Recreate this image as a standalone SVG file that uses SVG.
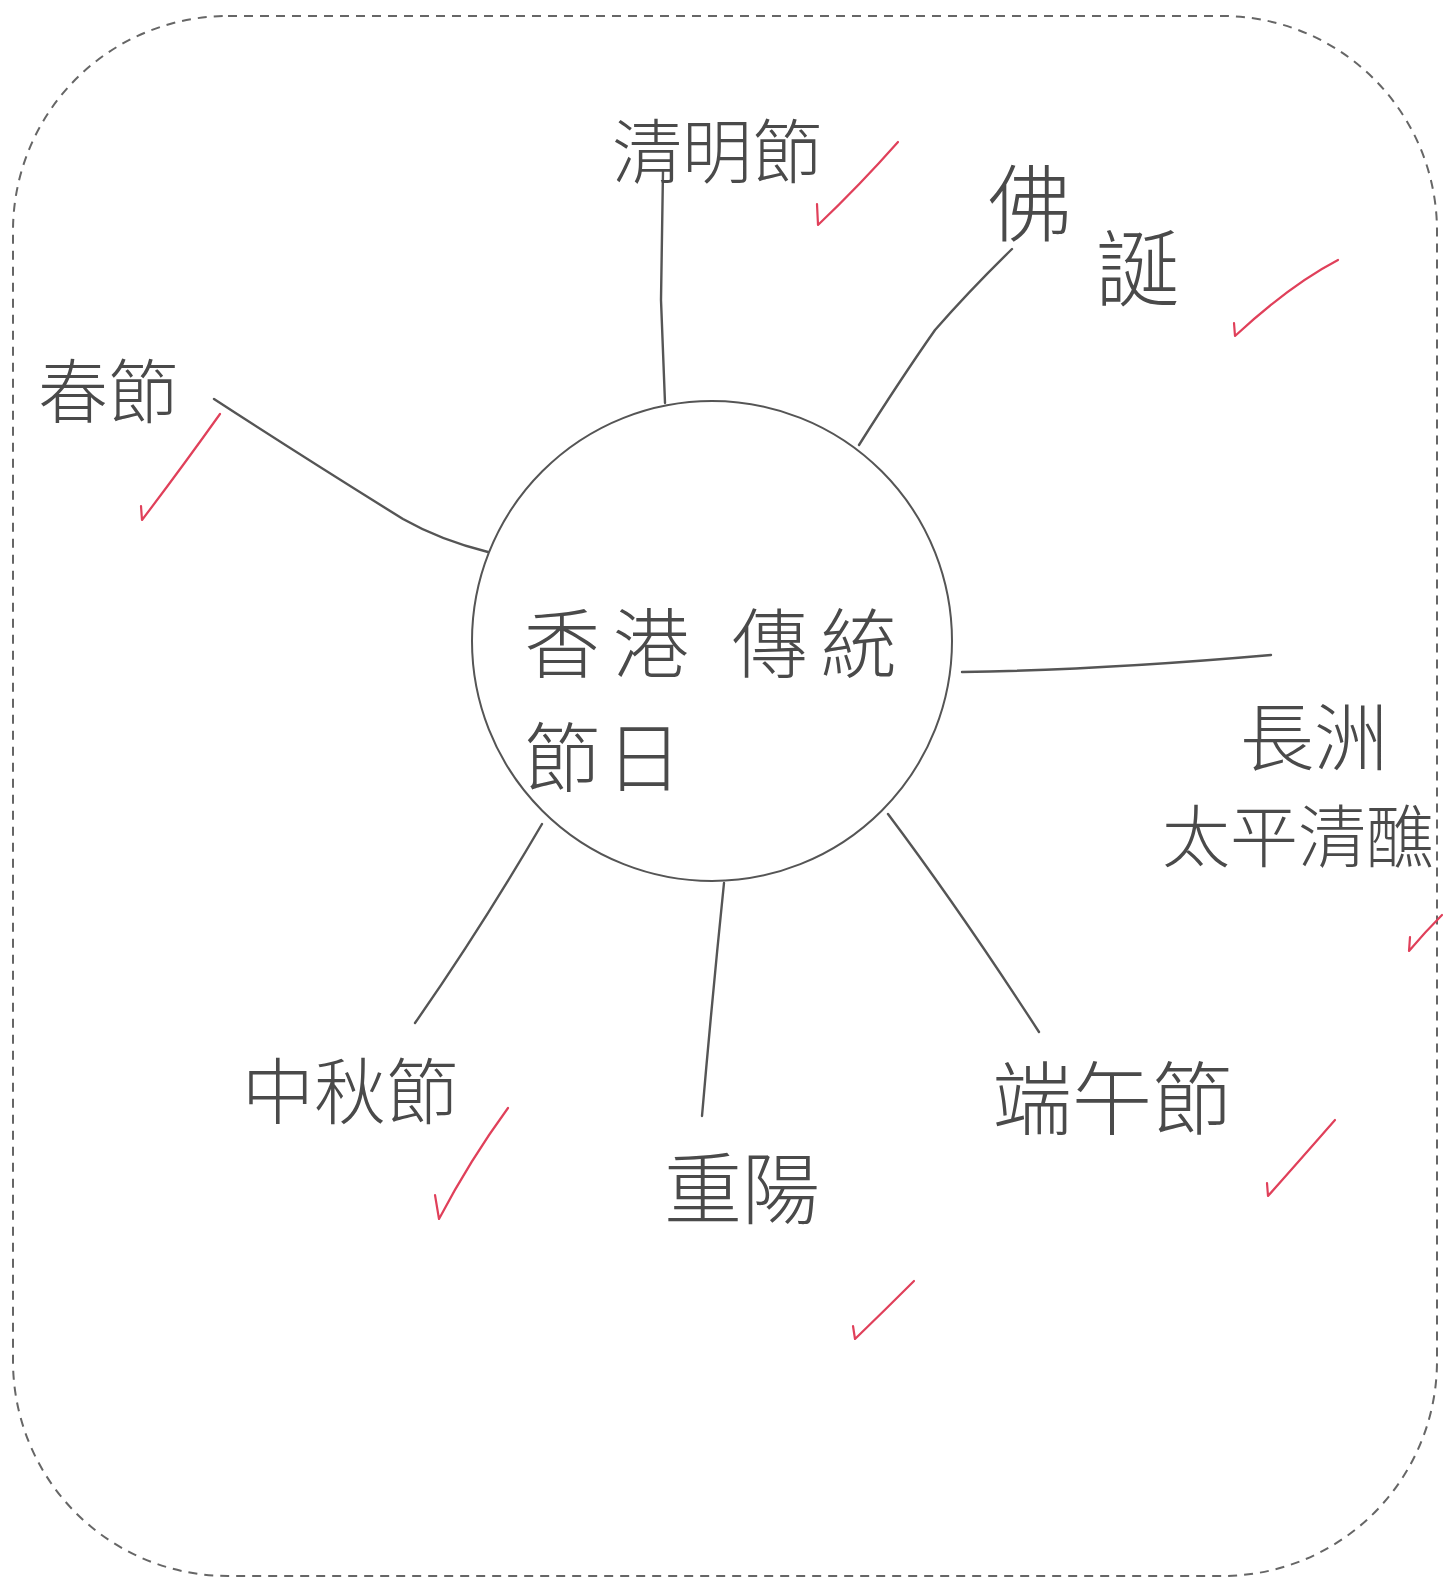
<svg xmlns="http://www.w3.org/2000/svg" width="1445" height="1579" viewBox="0 0 1445 1579">
<style>
.t{font-family:"Noto Sans CJK TC","Noto Sans CJK SC",sans-serif;font-weight:300;fill:#4a4a4a;text-anchor:middle}
.ln{fill:none;stroke:#555;stroke-width:2.4;stroke-linecap:round;stroke-linejoin:round}
.ck{fill:none;stroke:#e0405a;stroke-width:2.2;stroke-linecap:round;stroke-linejoin:round}
</style>
<rect width="1445" height="1579" fill="#ffffff"/>
<rect id="border" x="13" y="16" width="1424" height="1560" rx="215" ry="215" fill="none" stroke="#666" stroke-width="2" stroke-dasharray="9,7"/>
<g id="connectors">
<path class="ln" d="M663,171 L661,300 L665,403"/>
<path class="ln" d="M1012,249 Q970,290 935,330 Q900,380 859,445"/>
<path class="ln" d="M214,399 Q300,455 403,519 Q440,540 488,552"/>
<path class="ln" d="M962,672 Q1100,670 1271,655"/>
<path class="ln" d="M888,814 Q960,910 1039,1032"/>
<path class="ln" d="M724,883 Q712,1000 702,1116"/>
<path class="ln" d="M542,824 Q480,930 415,1023"/>
</g>
<g id="center">
<circle cx="712" cy="641" r="240" fill="none" stroke="#555" stroke-width="2"/>
<text class="t" x="524" y="672" font-size="76" style="text-anchor:start" letter-spacing="13">香港 傳統</text>
<text class="t" x="524" y="786" font-size="76" style="text-anchor:start" letter-spacing="6">節日</text>
</g>
<g id="qingming"><text class="t" x="717" y="178" font-size="70">清明節</text></g>
<g id="fodan">
<text class="t" x="1030" y="235" font-size="84">佛</text>
<text class="t" x="1138" y="300" font-size="84">誕</text>
</g>
<g id="chunjie"><text class="t" x="108" y="418" font-size="70">春節</text></g>
<g id="cheungchau">
<text class="t" x="1314" y="765" font-size="74">長洲</text>
<text class="t" x="1298" y="862" font-size="68">太平清醮</text>
</g>
<g id="duanwu"><text class="t" x="1112" y="1128" font-size="80">端午節</text></g>
<g id="chongyang"><text class="t" x="742" y="1218" font-size="78">重陽</text></g>
<g id="zhongqiu"><text class="t" x="350" y="1118" font-size="72">中秋節</text></g>
<g id="checks">
<path class="ck" d="M817,204 L818,225 Q860,185 898,142"/>
<path class="ck" d="M1234,323 L1235,336 Q1290,285 1338,260"/>
<path class="ck" d="M141,506 L142,520 Q180,470 220,414"/>
<path class="ck" d="M1410,937 L1409,951 Q1425,932 1442,915"/>
<path class="ck" d="M1267,1183 L1268,1196 Q1300,1160 1335,1120"/>
<path class="ck" d="M853,1326 L855,1339 Q885,1310 914,1281"/>
<path class="ck" d="M435,1195 L439,1219 Q470,1160 508,1108"/>
</g>
</svg>
